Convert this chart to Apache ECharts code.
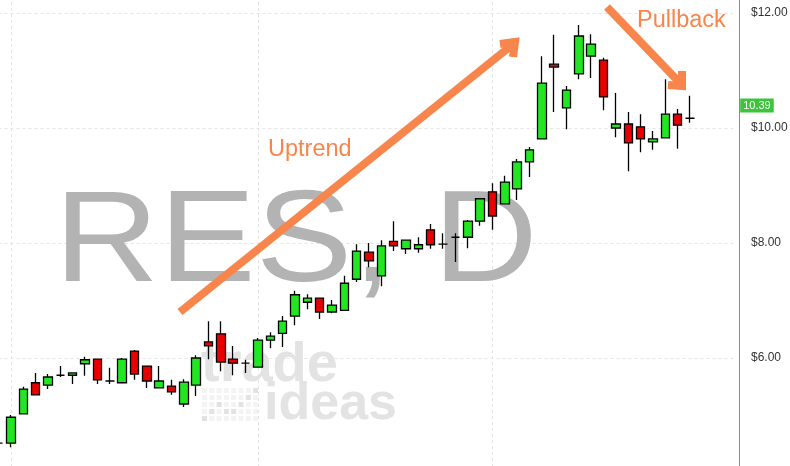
<!DOCTYPE html>
<html>
<head>
<meta charset="utf-8">
<script src="https://cdn.jsdelivr.net/npm/echarts@6/dist/echarts.min.js"></script>
<style>
  html, body { margin: 0; padding: 0; background: #ffffff; }
  #chart { width: 790px; height: 466px; }
</style>
</head>
<body>
<div id="chart"></div>
<script>
// Daily OHLC for RES
const opens  = [4.52, 4.52, 5.03, 5.57, 5.53, 5.70, 5.70, 5.90, 5.98, 5.60,
                5.57, 6.12, 5.86, 5.48, 5.51, 5.20, 5.53, 6.28, 6.42, 5.98,
                5.91, 5.84, 6.31, 6.43, 6.73, 6.97, 7.04, 6.80, 6.83, 7.37,
                7.84, 7.43, 8.03, 7.90, 7.90, 8.23, 7.98, 8.10, 8.10, 8.38,
                8.89, 8.68, 8.94, 9.41, 9.81, 11.11, 10.35, 10.94, 11.25, 11.18,
                10.00, 10.07, 10.02, 9.76, 9.83, 10.24, 10.17];
const closes = [4.52, 4.97, 5.46, 5.36, 5.67, 5.70, 5.74, 5.97, 5.62, 5.60,
                5.98, 5.72, 5.60, 5.60, 5.41, 5.58, 6.00, 6.21, 5.93, 5.91,
                5.91, 6.31, 6.38, 6.64, 7.10, 7.04, 6.80, 6.92, 7.30, 7.86,
                7.69, 7.95, 7.95, 8.05, 7.97, 7.97, 7.98, 8.10, 8.38, 8.77,
                8.47, 9.06, 9.41, 9.62, 10.78, 11.06, 10.66, 11.60, 11.46, 10.54,
                10.07, 9.74, 9.81, 9.81, 10.24, 10.05, 10.17];
const lows   = [4.50, 4.45, 5.02, 5.36, 5.46, 5.67, 5.55, 5.69, 5.55, 5.55,
                5.57, 5.62, 5.48, 5.48, 5.36, 5.15, 5.34, 5.98, 5.77, 5.70,
                5.74, 5.84, 6.17, 6.19, 6.57, 6.85, 6.68, 6.78, 6.83, 7.32,
                7.58, 7.25, 7.86, 7.81, 7.83, 7.90, 7.90, 7.67, 7.91, 8.30,
                8.23, 8.68, 8.75, 9.15, 9.81, 10.28, 9.98, 10.85, 10.87, 10.31,
                9.84, 9.25, 9.58, 9.62, 9.83, 9.64, 10.09];
const highs  = [4.54, 5.01, 5.50, 5.74, 5.72, 5.86, 5.75, 6.02, 5.98, 5.83,
                6.00, 6.14, 5.86, 5.86, 5.62, 5.63, 6.05, 6.64, 6.64, 6.21,
                5.97, 6.35, 6.45, 6.73, 7.17, 7.11, 7.04, 7.01, 7.43, 7.98,
                8.00, 8.05, 8.38, 8.05, 8.10, 8.33, 8.17, 8.17, 8.40, 8.77,
                9.04, 9.17, 9.46, 9.67, 11.25, 11.62, 10.73, 11.79, 11.63, 11.22,
                10.61, 10.28, 10.24, 9.95, 10.85, 10.33, 10.56];

// Session with the dark red body
const darkRedDays = [45];
// Days that start a month (vertical grid lines)
const monthStarts = [1, 21, 40];
// Price axis ticks and last traded price
const priceTicks = [6, 8, 10, 12];
const lastPrice = 10.39;
// Empty sessions to the right of the last bar
const padDays = 3;

const UP = '#22e622';
const DOWN = '#e80000';
const ORANGE = '#f7854c';

const dayCount = opens.length;
const categories = [];
for (let i = 0; i < dayCount + padDays; i++) categories.push(String(i));

const ohlc = opens.map((o, i) => {
  const item = { value: [o, closes[i], lows[i], highs[i]] };
  if (darkRedDays.includes(i)) {
    item.itemStyle = { color0: '#b01e1e', color: '#b01e1e' };
  }
  return item;
});

// Horizontal layout: one band per session
const band = 12.345;
const gridLeft = -7.5;
const gridWidth = band * categories.length;
const axisX = 739;

// Watermark logo dots
const logoDots = [];
const litDots = [[0, 4], [1, 3], [2, 2], [3, 3], [4, 3], [5, 2], [6, 1], [7, 0]];
for (let c = 0; c < 8; c++) {
  for (let r = 0; r < 5; r++) {
    const lit = litDots.some(d => d[0] === c && d[1] === r);
    logoDots.push({
      type: 'rect', z: 1, silent: true,
      shape: { x: 202 + c * 7.3, y: 388 + r * 7, width: 5, height: 5 },
      style: { fill: lit ? '#e2e2e2' : '#f3f3f3' }
    });
  }
}

const chart = echarts.init(document.getElementById('chart'), null, { renderer: 'canvas' });

chart.setOption({
  animation: false,
  backgroundColor: '#ffffff',
  grid: {
    left: gridLeft, top: 0, width: gridWidth, height: 473,
    containLabel: false, outerBoundsMode: 'none'
  },
  xAxis: {
    type: 'category',
    data: categories,
    boundaryGap: true,
    axisLine: { show: false },
    axisTick: { show: false },
    axisLabel: { show: false },
    splitLine: { show: false }
  },
  yAxis: {
    type: 'value',
    position: 'right',
    offset: axisX - (gridLeft + gridWidth),
    min: 4,
    max: 12 + 13 / 57.5,
    interval: 2,
    axisLine: { show: true, lineStyle: { color: '#8a8a8a', width: 1 } },
    axisTick: { show: false },
    axisLabel: {
      showMaxLabel: false,
      margin: 12,
      color: '#333333',
      fontSize: 12,
      fontFamily: 'Liberation Sans, Arial, sans-serif',
      formatter: v => priceTicks.includes(Math.round(v * 100) / 100) ? '$' + v.toFixed(2) : ''
    },
    splitLine: {
      show: true,
      showMaxLine: false,
      lineStyle: { color: '#e4e4e4', type: [3, 3], width: 1 }
    }
  },
  graphic: [
    {
      type: 'text', z: 1, silent: true,
      originX: 296, originY: 289, scaleY: 0.9,
      style: {
        x: 296, y: 240, text: 'RES, D',
        textAlign: 'center', textVerticalAlign: 'middle',
        font: '145px "Liberation Sans", Arial, sans-serif',
        fill: '#b3b3b3'
      }
    },
    {
      type: 'text', z: 1, silent: true,
      style: {
        x: 201, y: 366, text: 'trade',
        textAlign: 'left', textVerticalAlign: 'middle',
        font: 'bold 56px "Liberation Sans", Arial, sans-serif',
        fill: '#e3e3e3'
      }
    },
    {
      type: 'text', z: 1, silent: true,
      style: {
        x: 264, y: 405, text: 'ideas',
        textAlign: 'left', textVerticalAlign: 'middle',
        font: 'bold 52px "Liberation Sans", Arial, sans-serif',
        fill: '#e3e3e3'
      }
    },
    ...logoDots,
    {
      type: 'text', z: 10, silent: true,
      style: {
        x: 268, y: 150, text: 'Uptrend',
        textAlign: 'left', textVerticalAlign: 'middle',
        font: '23.5px "Liberation Sans", Arial, sans-serif',
        fill: ORANGE
      }
    },
    {
      type: 'text', z: 10, silent: true,
      style: {
        x: 637, y: 21, text: 'Pullback',
        textAlign: 'left', textVerticalAlign: 'middle',
        font: '23.5px "Liberation Sans", Arial, sans-serif',
        fill: ORANGE
      }
    },
    // Uptrend arrow
    {
      type: 'line', z: 10, silent: true,
      shape: { x1: 180, y1: 312, x2: 512, y2: 45 },
      style: { stroke: ORANGE, lineWidth: 8 }
    },
    {
      type: 'polyline', z: 10, silent: true,
      shape: { points: [[500, 44], [515, 42], [513, 57]] },
      style: { stroke: ORANGE, lineWidth: 8, fill: null, lineJoin: 'miter' }
    },
    // Pullback arrow
    {
      type: 'line', z: 10, silent: true,
      shape: { x1: 607, y1: 7, x2: 680, y2: 83 },
      style: { stroke: ORANGE, lineWidth: 8 }
    },
    {
      type: 'polyline', z: 10, silent: true,
      shape: { points: [[668, 85], [682, 86], [682, 71]] },
      style: { stroke: ORANGE, lineWidth: 8, fill: null, lineJoin: 'miter' }
    }
  ],
  series: [
    {
      // month separators
      type: 'line',
      z: 0,
      data: [],
      silent: true,
      markLine: {
        z: 0,
        silent: true,
        symbol: 'none',
        animation: false,
        label: { show: false },
        lineStyle: { color: '#e4e4e4', type: [3, 3], width: 1 },
        data: monthStarts.map(d => ({ xAxis: String(d) }))
      }
    },
    {
      type: 'candlestick',
      z: 2,
      barWidth: 9,
      data: ohlc,
      itemStyle: {
        color: UP,
        color0: DOWN,
        borderColor: '#000000',
        borderColor0: '#000000',
        borderColorDoji: '#000000',
        borderWidth: 1.3
      },
      markLine: {
        silent: true,
        symbol: 'none',
        animation: false,
        lineStyle: { color: 'rgba(0,0,0,0)', width: 1 },
        label: {
          show: true,
          position: 'end',
          distance: 7,
          formatter: lastPrice.toFixed(2),
          color: '#ffffff',
          backgroundColor: '#3cc43c',
          padding: [2, 3, 1, 3],
          fontSize: 11,
          fontFamily: 'Liberation Sans, Arial, sans-serif'
        },
        data: [{ yAxis: lastPrice }]
      }
    }
  ]
});
</script>
</body>
</html>
